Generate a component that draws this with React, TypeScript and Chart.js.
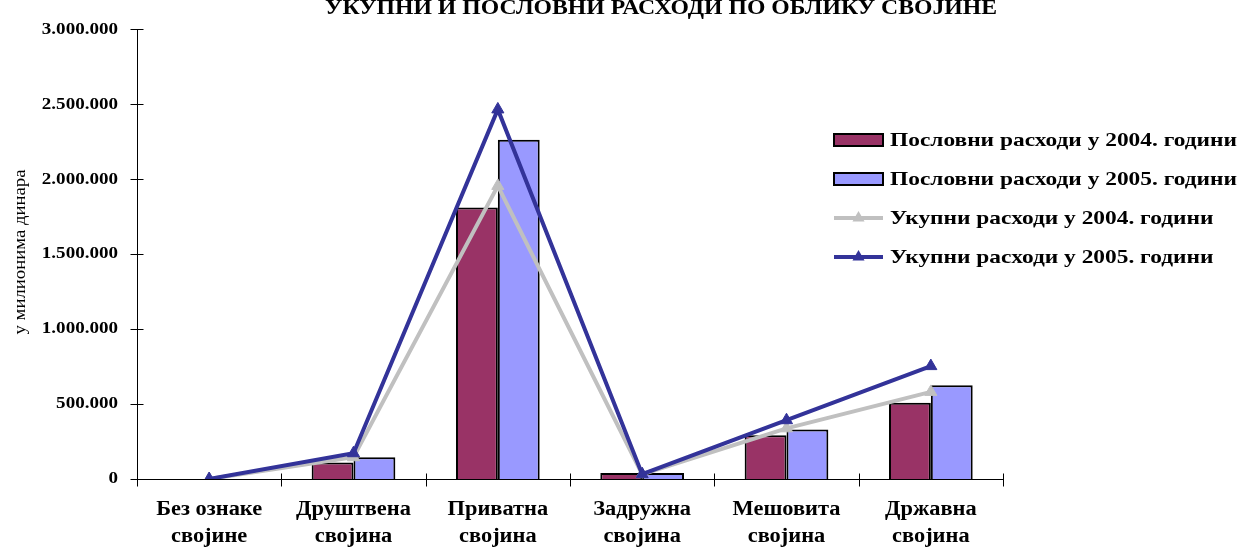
import React, { useEffect, useRef } from "react";
import { Chart, registerables } from "chart.js";

Chart.register(...registerables);

const W = 1237;
const H = 548;

const titleText = "УКУПНИ И ПОСЛОВНИ РАСХОДИ ПО ОБЛИКУ СВОЈИНЕ";
const yAxisTitle = "у милионима динара";

const categories: string[][] = [
  ["Без ознаке", "својине"],
  ["Друштвена", "својина"],
  ["Приватна", "својина"],
  ["Задружна", "својина"],
  ["Мешовита", "својина"],
  ["Државна", "својина"],
];

const seriesLabels = [
  "Пословни расходи у 2004. години",
  "Пословни расходи у 2005. години",
  "Укупни расходи у 2004. години",
  "Укупни расходи у 2005. години",
];

const business2004 = [0, 110000, 1810000, 40000, 291000, 509000];
const business2005 = [0, 145000, 2262000, 40000, 330000, 626000];
const total2004 = [0, 145000, 1955000, 32000, 338000, 581000];
const total2005 = [0, 172000, 2465000, 32000, 392000, 753000];

const yTicks = [0, 500000, 1000000, 1500000, 2000000, 2500000, 3000000];

const colors = ["#993366", "#9999FF", "#C0C0C0", "#333399"];

const SERIF = "'Liberation Serif', 'Times New Roman', serif";

function fmt(v: number): string {
  const s = Math.round(v).toString();
  return s.replace(/\B(?=(\d{3})+(?!\d))/g, ".");
}

function drawStretched(
  ctx: CanvasRenderingContext2D,
  text: string,
  x: number,
  y: number,
  width: number,
  align: "left" | "center"
) {
  const w0 = ctx.measureText(text).width;
  const sx = width / w0;
  const startX = align === "center" ? x - width / 2 : x;
  ctx.save();
  ctx.translate(startX, y);
  ctx.scale(sx, 1);
  ctx.textAlign = "left";
  ctx.fillText(text, 0, 0);
  ctx.restore();
}

const stretchPatch = {
  id: "stretchPatch",
  beforeDraw(chart: any) {
    const factor: Record<string, number> = { x: 1.12, y: 1.12 };
    Object.keys(factor).forEach((id) => {
      const scale = chart.scales[id];
      if (!scale || scale.__patched) return;
      const sx = factor[id];
      const origDraw = scale.drawLabels.bind(scale);
      const origGet = scale.getLabelItems.bind(scale);
      scale.drawLabels = (area: any) => {
        scale.getLabelItems = (a: any) =>
          origGet(a).map((it: any) => ({
            ...it,
            options: {
              ...it.options,
              translation: [it.options.translation[0] / sx, it.options.translation[1]],
            },
          }));
        const ctx = chart.ctx;
        ctx.save();
        ctx.scale(sx, 1);
        origDraw(area);
        ctx.restore();
        scale.getLabelItems = origGet;
      };
      scale.__patched = true;
    });
  },
};

const axesPlugin = {
  id: "axesPlugin",
  beforeDatasetsDraw(chart: any) {
    const ctx: CanvasRenderingContext2D = chart.ctx;
    const { left, right, top } = chart.chartArea;
    const xs = chart.scales.x;
    const ys = chart.scales.y;
    ctx.save();
    ctx.strokeStyle = "#000";
    ctx.lineWidth = 1;
    const ax = Math.round(left) + 0.5;
    const ay = Math.round(ys.getPixelForValue(0)) + 0.5;
    ctx.beginPath();
    ctx.moveTo(ax, Math.round(top));
    ctx.lineTo(ax, ay);
    ctx.moveTo(ax, ay);
    ctx.lineTo(Math.round(right) + 0.5, ay);
    yTicks.forEach((v) => {
      const py = Math.round(ys.getPixelForValue(v)) + 0.5;
      ctx.moveTo(ax - 7, py);
      ctx.lineTo(ax + 6, py);
    });
    const n = categories.length;
    const half = (xs.getPixelForValue(1) - xs.getPixelForValue(0)) / 2;
    for (let i = 0; i <= n; i++) {
      const px = i < n ? xs.getPixelForValue(i) - half : right;
      const rx = Math.round(px) + 0.5;
      ctx.moveTo(rx, ay - 6);
      ctx.lineTo(rx, ay + 7);
    }
    ctx.stroke();
    ctx.restore();
  },
  afterDraw(chart: any) {
    const ctx: CanvasRenderingContext2D = chart.ctx;
    ctx.save();
    ctx.fillStyle = "#000";
    ctx.textBaseline = "alphabetic";
    ctx.font = `bold 22px ${SERIF}`;
    drawStretched(ctx, titleText, 661, 14, 672, "center");

    ctx.save();
    ctx.translate(25, 252);
    ctx.rotate(-Math.PI / 2);
    ctx.font = `16px ${SERIF}`;
    ctx.textBaseline = "alphabetic";
    drawStretched(ctx, yAxisTitle, 0, 0, 165, "center");
    ctx.restore();

    const rows = [140, 179, 218, 257];
    const bx0 = 834;
    const bx1 = 883;
    ctx.font = `bold 19px ${SERIF}`;
    const w0 = ctx.measureText(seriesLabels[0]).width;
    const sx = 347 / w0;
    rows.forEach((ry, i) => {
      if (i < 2) {
        ctx.fillStyle = colors[i];
        ctx.fillRect(bx0, ry - 6, bx1 - bx0, 12);
        ctx.strokeStyle = "#000";
        ctx.lineWidth = 2;
        ctx.strokeRect(bx0, ry - 6, bx1 - bx0, 12);
      } else {
        ctx.strokeStyle = colors[i];
        ctx.lineWidth = 4;
        ctx.beginPath();
        ctx.moveTo(bx0, ry);
        ctx.lineTo(bx1, ry);
        ctx.stroke();
        const cx = (bx0 + bx1) / 2;
        const r = 7;
        ctx.fillStyle = colors[i];
        ctx.beginPath();
        ctx.moveTo(cx, ry - r);
        ctx.lineTo(cx + r * 0.866, ry + r * 0.5);
        ctx.lineTo(cx - r * 0.866, ry + r * 0.5);
        ctx.closePath();
        ctx.fill();
      }
      ctx.fillStyle = "#000";
      ctx.textBaseline = "middle";
      const tw = ctx.measureText(seriesLabels[i]).width * sx;
      drawStretched(ctx, seriesLabels[i], 890, ry + 1, tw, "left");
    });
    ctx.restore();
  },
};

export default function App() {
  const ref = useRef<HTMLCanvasElement>(null);

  useEffect(() => {
    const canvas = ref.current;
    if (!canvas) return;
    const chart = new Chart(canvas, {
      type: "bar",
      data: {
        labels: categories as any,
        datasets: [
          {
            type: "bar",
            label: seriesLabels[0],
            data: business2004,
            backgroundColor: colors[0],
            borderColor: "#000",
            borderWidth: 2,
            categoryPercentage: 0.58,
            barPercentage: 1,
            order: 2,
          } as any,
          {
            type: "bar",
            label: seriesLabels[1],
            data: business2005,
            backgroundColor: colors[1],
            borderColor: "#000",
            borderWidth: 2,
            categoryPercentage: 0.58,
            barPercentage: 1,
            order: 3,
          } as any,
          {
            type: "line",
            label: seriesLabels[2],
            data: total2004,
            borderColor: colors[2],
            backgroundColor: colors[2],
            borderWidth: 4,
            pointStyle: "triangle",
            pointRadius: 7,
            pointBorderWidth: 1,
            pointBackgroundColor: colors[2],
            pointBorderColor: colors[2],
            tension: 0,
            fill: false,
            order: 1,
          } as any,
          {
            type: "line",
            label: seriesLabels[3],
            data: total2005,
            borderColor: colors[3],
            backgroundColor: colors[3],
            borderWidth: 4,
            pointStyle: "triangle",
            pointRadius: 7,
            pointBorderWidth: 1,
            pointBackgroundColor: colors[3],
            pointBorderColor: colors[3],
            tension: 0,
            fill: false,
            order: 0,
          } as any,
        ],
      },
      options: {
        responsive: false,
        animation: false,
        events: [],
        layout: { padding: { left: 0, right: W - 1003, top: 25, bottom: 0 } },
        plugins: {
          legend: { display: false },
          tooltip: { enabled: false },
          title: { display: false },
        },
        scales: {
          x: {
            grid: { display: true, drawOnChartArea: false, drawTicks: false, lineWidth: 0 },
            border: { display: false },
            ticks: {
              color: "#000",
              font: { family: SERIF, size: 20, weight: "bold", lineHeight: 1.35 },
              padding: 17,
              maxRotation: 0,
              minRotation: 0,
              autoSkip: false,
            },
            afterFit: (s: any) => {
              s.height = H - 479;
            },
          },
          y: {
            min: 0,
            max: 3000000,
            grid: { display: true, drawOnChartArea: false, drawTicks: false, lineWidth: 0 },
            border: { display: false },
            ticks: {
              stepSize: 500000,
              color: "#000",
              font: { family: SERIF, size: 17, weight: "bold" },
              padding: 19,
              callback: (v: any) => fmt(Number(v)),
            },
            afterFit: (s: any) => {
              s.width = 137;
            },
          },
        },
      } as any,
      plugins: [stretchPatch, axesPlugin],
    });
    chart.draw();
    return () => chart.destroy();
  }, []);

  return (
    <div style={{ position: "fixed", left: 0, top: 0, width: W, height: H, background: "#fff" }}>
      <canvas ref={ref} width={W} height={H} style={{ display: "block", width: W, height: H }} />
    </div>
  );
}
